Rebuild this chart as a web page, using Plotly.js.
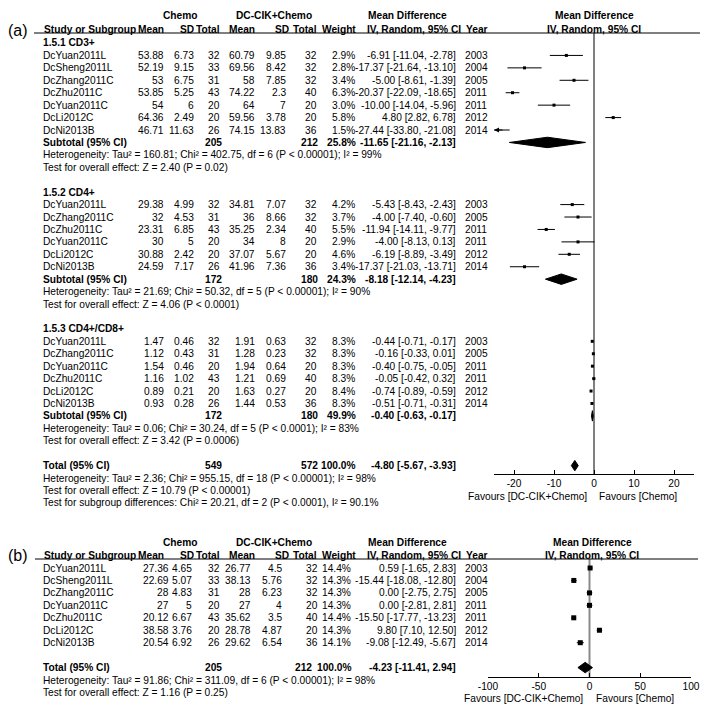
<!DOCTYPE html>
<html><head><meta charset="utf-8">
<script src="https://cdn.plot.ly/plotly-3.0.1.min.js"></script>
<style>html,body{margin:0;padding:0;background:#fff}#chart{width:712px;height:716px}</style>
</head><body><div id="chart"></div>
<script>
// ================= DATA =================
// Panel (a) subgroup 1.5.1 CD3+
const cd3Studies = ['DcYuan2011L','DcSheng2011L','DcZhang2011C','DcZhu2011C','DcYuan2011C','DcLi2012C','DcNi2013B'];
const cd3ChemoMean = [53.88,52.19,53,53.85,54,64.36,46.71];
const cd3ChemoSD   = [6.73,9.15,6.75,5.25,6,2.49,11.63];
const cd3ChemoN    = [32,33,31,43,20,20,26];
const cd3DcMean    = [60.79,69.56,58,74.22,64,59.56,74.15];
const cd3DcSD      = [9.85,8.42,7.85,2.3,7,3.78,13.83];
const cd3DcN       = [32,32,32,40,20,20,36];
const cd3Weight    = [2.9,2.8,3.4,6.3,3.0,5.8,1.5];
const cd3MD        = [-6.91,-17.37,-5.00,-20.37,-10.00,4.80,-27.44];
const cd3Lo        = [-11.04,-21.64,-8.61,-22.09,-14.04,2.82,-33.80];
const cd3Hi        = [-2.78,-13.10,-1.39,-18.65,-5.96,6.78,-21.08];
const cd3Year      = [2003,2004,2005,2011,2011,2012,2014];
const cd3Subtotal  = [205,212,25.8,-11.65,-21.16,-2.13]; // N chemo, N dc, weight, MD, lo, hi
const cd3Het  = 'Heterogeneity: Tau² = 160.81; Chi² = 402.75, df = 6 (P &lt; 0.00001); I² = 99%';
const cd3Test = 'Test for overall effect: Z = 2.40 (P = 0.02)';

// Panel (a) subgroup 1.5.2 CD4+
const cd4Studies = ['DcYuan2011L','DcZhang2011C','DcZhu2011C','DcYuan2011C','DcLi2012C','DcNi2013B'];
const cd4ChemoMean = [29.38,32,23.31,30,30.88,24.59];
const cd4ChemoSD   = [4.99,4.53,6.85,5,2.42,7.17];
const cd4ChemoN    = [32,31,43,20,20,26];
const cd4DcMean    = [34.81,36,35.25,34,37.07,41.96];
const cd4DcSD      = [7.07,8.66,2.34,8,5.67,7.36];
const cd4DcN       = [32,32,40,20,20,36];
const cd4Weight    = [4.2,3.7,5.5,2.9,4.6,3.4];
const cd4MD        = [-5.43,-4.00,-11.94,-4.00,-6.19,-17.37];
const cd4Lo        = [-8.43,-7.40,-14.11,-8.13,-8.89,-21.03];
const cd4Hi        = [-2.43,-0.60,-9.77,0.13,-3.49,-13.71];
const cd4Year      = [2003,2005,2011,2011,2012,2014];
const cd4Subtotal  = [172,180,24.3,-8.18,-12.14,-4.23];
const cd4Het  = 'Heterogeneity: Tau² = 21.69; Chi² = 50.32, df = 5 (P &lt; 0.00001); I² = 90%';
const cd4Test = 'Test for overall effect: Z = 4.06 (P &lt; 0.0001)';

// Panel (a) subgroup 1.5.3 CD4+/CD8+
const ratioStudies = ['DcYuan2011L','DcZhang2011C','DcYuan2011C','DcZhu2011C','DcLi2012C','DcNi2013B'];
const ratioChemoMean = [1.47,1.12,1.54,1.16,0.89,0.93];
const ratioChemoSD   = [0.46,0.43,0.46,1.02,0.21,0.28];
const ratioChemoN    = [32,31,20,43,20,26];
const ratioDcMean    = [1.91,1.28,1.94,1.21,1.63,1.44];
const ratioDcSD      = [0.63,0.23,0.64,0.69,0.27,0.53];
const ratioDcN       = [32,32,20,40,20,36];
const ratioWeight    = [8.3,8.3,8.3,8.3,8.4,8.3];
const ratioMD        = [-0.44,-0.16,-0.40,-0.05,-0.74,-0.51];
const ratioLo        = [-0.71,-0.33,-0.75,-0.42,-0.89,-0.71];
const ratioHi        = [-0.17,0.01,-0.05,0.32,-0.59,-0.31];
const ratioYear      = [2003,2005,2011,2011,2012,2014];
const ratioSubtotal  = [172,180,49.9,-0.40,-0.63,-0.17];
const ratioHet  = 'Heterogeneity: Tau² = 0.06; Chi² = 30.24, df = 5 (P &lt; 0.0001); I² = 83%';
const ratioTest = 'Test for overall effect: Z = 3.42 (P = 0.0006)';

const groupTitles = ['1.5.1 CD3+','1.5.2 CD4+','1.5.3 CD4+/CD8+'];
const totalA = [549,572,100.0,-4.80,-5.67,-3.93];
const totalAHet  = 'Heterogeneity: Tau² = 2.36; Chi² = 955.15, df = 18 (P &lt; 0.00001); I² = 98%';
const totalATest = 'Test for overall effect: Z = 10.79 (P &lt; 0.00001)';
const totalASub  = 'Test for subgroup differences: Chi² = 20.21, df = 2 (P &lt; 0.0001), I² = 90.1%';

// Panel (b)
const bStudies = ['DcYuan2011L','DcSheng2011L','DcZhang2011C','DcYuan2011C','DcZhu2011C','DcLi2012C','DcNi2013B'];
const bChemoMean = [27.36,22.69,28,27,20.12,38.58,20.54];
const bChemoSD   = [4.65,5.07,4.83,5,6.67,3.76,6.92];
const bChemoN    = [32,33,31,20,43,20,26];
const bDcMean    = [26.77,38.13,28,27,35.62,28.78,29.62];
const bDcSD      = [4.5,5.76,6.23,4,3.5,4.87,6.54];
const bDcN       = [32,32,32,20,40,20,36];
const bWeight    = [14.4,14.3,14.3,14.3,14.4,14.3,14.1];
const bMD        = [0.59,-15.44,0.00,0.00,-15.50,9.80,-9.08];
const bLo        = [-1.65,-18.08,-2.75,-2.81,-17.77,7.10,-12.49];
const bHi        = [2.83,-12.80,2.75,2.81,-13.23,12.50,-5.67];
const bYear      = [2003,2004,2005,2011,2011,2012,2014];
const totalB = [205,212,100.0,-4.23,-11.41,2.94];
const totalBHet  = 'Heterogeneity: Tau² = 91.86; Chi² = 311.09, df = 6 (P &lt; 0.00001); I² = 98%';
const totalBTest = 'Test for overall effect: Z = 1.16 (P = 0.25)';

// Axis ticks
const aTicks = [-20,-10,0,10,20];
const aTickText = ['-20','-10','0','10','20'];
const aRange = [-25,25];
const bTicks = [-100,-50,0,50,100];
const bTickText = ['-100','-50','0','50','100'];
const bRange = [-100,100];
const favLeft = 'Favours [DC-CIK+Chemo]';
const favRight = 'Favours [Chemo]';
const headTop = ['Chemo','DC-CIK+Chemo','Mean Difference','Mean Difference'];
const headCols = ['Study or Subgroup','Mean','SD','Total','Mean','SD','Total','Weight','IV, Random, 95% CI','Year','IV, Random, 95% CI'];

// ================= LAYOUT HELPERS =================
const W = 712, H = 716;
const FONT = 'Liberation Sans, Arial, Helvetica, sans-serif';
const FS = 10.2;
const A0 = 43, AP = 12.43;   // panel a: first row pixel, row pitch
const B0 = 568, BP = 12.45;  // panel b
const rowPxA = r => A0 + AP * r;
const rowPxB = r => B0 + BP * r;
const fmt2 = v => v.toFixed(2);
const ci = (m, l, h) => fmt2(m) + ' [' + fmt2(l) + ', ' + fmt2(h) + ']';

const ann = [];
function T(px, py, text, xanchor, opt) {
  opt = opt || {};
  ann.push({xref:'paper', yref:'paper', x:px / W, y:1 - py / H, text:text,
    xanchor:xanchor, yanchor:'middle', showarrow:false, borderpad:0,
    font:{family:FONT, size:opt.size || FS, color:'#000'}});
}
const colA = {cm:165, cs:195, cn:221, dm:256, ds:287, dn:318, w:356, md:457, yr:464, sn:223, sdn:319, sw:357};
const colB = {cm:170, cs:193, cn:221, dm:252, ds:283, dn:319, w:352, md:457, yr:464, sn:223, sdn:313, sw:353};

function studyRows(pyFn, startRow, cols, s, cm, cs, cn, dm, ds, dn, w, md, lo, hi, yr) {
  for (let i = 0; i < s.length; i++) {
    const py = pyFn(startRow + i);
    T(42, py, s[i], 'left');
    T(cols.cm, py, String(cm[i]), 'right');
    T(cols.cs, py, String(cs[i]), 'right');
    T(cols.cn, py, String(cn[i]), 'right');
    T(cols.dm, py, String(dm[i]), 'right');
    T(cols.ds, py, String(ds[i]), 'right');
    T(cols.dn, py, String(dn[i]), 'right');
    T(cols.w, py, w[i].toFixed(1) + '%', 'right');
    T(cols.md, py, ci(md[i], lo[i], hi[i]), 'right');
    T(cols.yr, py, String(yr[i]), 'left');
  }
}
function summaryRow(py, cols, label, t) {
  T(42, py, '<b>' + label + '</b>', 'left');
  T(cols.sn, py, '<b>' + t[0] + '</b>', 'right');
  T(cols.sdn, py, '<b>' + t[1] + '</b>', 'right');
  T(cols.sw, py, '<b>' + t[2].toFixed(1) + '%</b>', 'right');
  T(cols.md, py, '<b>' + ci(t[3], t[4], t[5]) + '</b>', 'right');
}
function headers(y1, y2, zeroPx, labelText, labelY) {
  T(7, labelY, labelText, 'left', {size:16});
  T(180, y1, '<b>' + headTop[0] + '</b>', 'center');
  T(274, y1, '<b>' + headTop[1] + '</b>', 'center');
  T(407, y1, '<b>' + headTop[2] + '</b>', 'center');
  T(zeroPx, y1, '<b>' + headTop[3] + '</b>', 'center');
  T(43, y2, '<b>' + headCols[0] + '</b>', 'left');
  const rx = [165,195,221,256,290,318,357,462];
  for (let k = 0; k < rx.length; k++) T(rx[k], y2, '<b>' + headCols[k + 1] + '</b>', 'right');
  T(465, y2, '<b>' + headCols[9] + '</b>', 'left');
  T(zeroPx, y2, '<b>' + headCols[10] + '</b>', 'center');
}

// ================= PANEL A TEXT + MARKS =================
const groupsA = [
  [cd3Studies,cd3ChemoMean,cd3ChemoSD,cd3ChemoN,cd3DcMean,cd3DcSD,cd3DcN,cd3Weight,cd3MD,cd3Lo,cd3Hi,cd3Year,cd3Subtotal,cd3Het,cd3Test],
  [cd4Studies,cd4ChemoMean,cd4ChemoSD,cd4ChemoN,cd4DcMean,cd4DcSD,cd4DcN,cd4Weight,cd4MD,cd4Lo,cd4Hi,cd4Year,cd4Subtotal,cd4Het,cd4Test],
  [ratioStudies,ratioChemoMean,ratioChemoSD,ratioChemoN,ratioDcMean,ratioDcSD,ratioDcN,ratioWeight,ratioMD,ratioLo,ratioHi,ratioYear,ratioSubtotal,ratioHet,ratioTest]
];
headers(16, 29, 594, '(a)', 30);
const aX = [], aY = [], aPlus = [], aMinus = [];
const traces = [];
const DH = 0.42;
function diamond(t, r, xa, ya) {
  traces.push({x:[t[4], t[3], t[5], t[3], t[4]], y:[r, r - DH, r, r + DH, r],
    xaxis:xa, yaxis:ya, mode:'lines', fill:'toself', fillcolor:'#000',
    line:{color:'#000', width:1}, hoverinfo:'skip'});
}
const arrows = [];
let row = 0;
groupsA.forEach((g, gi) => {
  T(42, rowPxA(row), '<b>' + groupTitles[gi] + '</b>', 'left');
  row++;
  studyRows(rowPxA, row, colA, g[0], g[1], g[2], g[3], g[4], g[5], g[6], g[7], g[8], g[9], g[10], g[11]);
  for (let i = 0; i < g[0].length; i++) {
    aX.push(g[8][i]); aY.push(row + i);
    aPlus.push(g[10][i] - g[8][i]); aMinus.push(g[8][i] - g[9][i]);
    if (g[9][i] < aRange[0]) arrows.push(row + i);
  }
  row += g[0].length;
  summaryRow(rowPxA(row), colA, 'Subtotal (95% CI)', g[12]);
  diamond(g[12], row, 'x', 'y');
  row++;
  T(42, rowPxA(row), g[13], 'left'); row++;
  T(42, rowPxA(row), g[14], 'left'); row++;
  row++;
});
summaryRow(rowPxA(row), colA, 'Total (95% CI)', totalA);
diamond(totalA, row, 'x', 'y');
row++;
T(42, rowPxA(row), totalAHet, 'left'); row++;
T(42, rowPxA(row), totalATest, 'left'); row++;
T(42, rowPxA(row), totalASub, 'left');
T(588, 497, favLeft, 'right');
T(598, 497, favRight, 'left');

traces.push({x:aX, y:aY, xaxis:'x', yaxis:'y', mode:'markers', type:'scatter',
  marker:{symbol:'square', size:3, color:'#000'},
  error_x:{type:'data', symmetric:false, array:aPlus, arrayminus:aMinus, width:0, thickness:1, color:'#000'},
  hoverinfo:'skip'});
arrows.forEach(r => ann.push({xref:'x', yref:'y', x:aRange[0] + 0.01, y:r, ax:10, ay:0,
  axref:'pixel', ayref:'pixel', text:'', showarrow:true, arrowhead:2, arrowsize:1, arrowwidth:1, arrowcolor:'#000'}));

// ================= PANEL B TEXT + MARKS =================
headers(542, 555, 592, '(b)', 555);
studyRows(rowPxB, 0, colB, bStudies, bChemoMean, bChemoSD, bChemoN, bDcMean, bDcSD, bDcN, bWeight, bMD, bLo, bHi, bYear);
const bRows = bStudies.map((s, i) => i);
summaryRow(rowPxB(8), colB, 'Total (95% CI)', totalB);
diamond(totalB, 8, 'x2', 'y2');
T(42, rowPxB(9), totalBHet, 'left');
T(42, rowPxB(10), totalBTest, 'left');
T(584, 698, favLeft, 'right');
T(595, 698, favRight, 'left');
traces.push({x:bMD, y:bRows, xaxis:'x2', yaxis:'y2', mode:'markers', type:'scatter',
  marker:{symbol:'square', size:5, color:'#000'},
  error_x:{type:'data', symmetric:false, array:bHi.map((h, i) => h - bMD[i]), arrayminus:bLo.map((l, i) => bMD[i] - l), width:0, thickness:1, color:'#000'},
  hoverinfo:'skip'});

// ================= AXES =================
const axisCommon = {showgrid:false, zeroline:false, showline:true, linecolor:'#000', linewidth:1,
  ticks:'inside', ticklen:4, tickwidth:1, tickcolor:'#000', fixedrange:true,
  tickfont:{family:FONT, size:FS, color:'#000'}, tickmode:'array'};
const layout = {
  width:W, height:H, margin:{l:0, r:0, t:0, b:0}, paper_bgcolor:'#fff', plot_bgcolor:'rgba(0,0,0,0)',
  showlegend:false, font:{family:FONT, size:FS, color:'#000'},
  xaxis:Object.assign({}, axisCommon, {domain:[494 / W, 694 / W], range:aRange, tickvals:aTicks, ticktext:aTickText, anchor:'y'}),
  yaxis:{domain:[1 - 474 / H, 1 - 33 / H], range:[(474 - A0) / AP, (33 - A0) / AP], visible:false, fixedrange:true},
  xaxis2:Object.assign({}, axisCommon, {domain:[488 / W, 691 / W], range:bRange, tickvals:bTicks, ticktext:bTickText, anchor:'y2'}),
  yaxis2:{domain:[1 - 677 / H, 1 - 559 / H], range:[(677 - B0) / BP, (559 - B0) / BP], visible:false, fixedrange:true},
  annotations:ann,
  shapes:[
    {type:'line', xref:'paper', yref:'paper', x0:34 / W, x1:700 / W, y0:1 - 33 / H, y1:1 - 33 / H, line:{color:'#000', width:1}},
    {type:'line', xref:'paper', yref:'paper', x0:35 / W, x1:698 / W, y0:1 - 559 / H, y1:1 - 559 / H, line:{color:'#000', width:1}},
    {type:'line', xref:'x', yref:'y domain', x0:0, x1:0, y0:0, y1:1, line:{color:'#000', width:1}},
    {type:'line', xref:'x2', yref:'y2 domain', x0:0, x1:0, y0:0, y1:1, line:{color:'#8a8a8a', width:2}, layer:'below'}
  ]
};
Plotly.newPlot('chart', traces, layout, {staticPlot:true, displayModeBar:false});
</script>
</body></html>
